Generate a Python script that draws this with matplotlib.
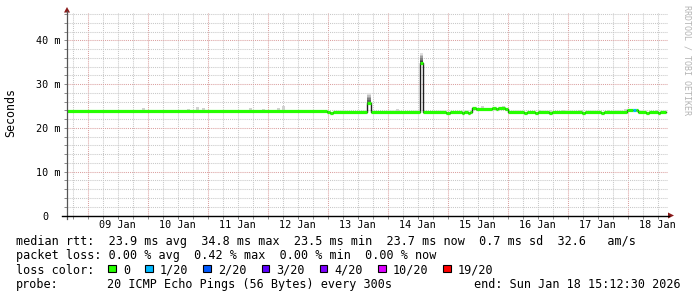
import matplotlib
matplotlib.use('Agg')
import matplotlib.pyplot as plt
import matplotlib.transforms as mtransforms
from matplotlib.lines import Line2D
from matplotlib.patches import Polygon, Rectangle
import numpy as np

W, H = 697, 297
MONO = 'DejaVu Sans Mono'

# median rtt as steps: start of each step (days since 08 Jan 00:00), ms, lost pings of 20
seg_day = [0.655, 4.988, 5.038, 5.088, 5.660, 5.717, 6.538, 6.583, 6.972, 7.038,
           7.233, 7.272, 7.338, 7.372, 7.400, 7.472, 7.733, 7.805, 7.838, 7.955,
           8.005, 8.270, 8.320, 8.455, 8.505, 8.690, 8.740, 9.230, 9.280, 9.560,
           9.610, 9.988, 10.083, 10.138, 10.167, 10.300, 10.350, 10.500, 10.540]
seg_ms = [23.9, 23.65, 23.4, 23.7, 25.6, 23.7, 34.8, 23.7, 23.45, 23.7,
          23.45, 23.7, 23.45, 23.7, 24.6, 24.3, 24.5, 24.3, 24.5, 24.3,
          23.6, 23.4, 23.6, 23.4, 23.6, 23.4, 23.6, 23.4, 23.6, 23.4,
          23.6, 24.2, 24.2, 24.2, 23.6, 23.4, 23.6, 23.4, 23.6]
seg_smoke = [23.9, 23.65, 23.4, 23.7, 27.9, 23.7, 37.1, 23.7, 23.45, 23.7,
             23.45, 23.7, 23.45, 23.7, 24.6, 24.3, 24.5, 24.3, 24.5, 24.3,
             23.6, 23.4, 23.6, 23.4, 23.6, 23.4, 23.6, 23.4, 23.6, 23.4,
             23.6, 24.2, 24.2, 24.2, 23.6, 23.4, 23.6, 23.4, 23.6]
seg_loss = [0, 0, 0, 0, 0, 0, 0, 0, 0, 0,
            0, 0, 0, 0, 0, 0, 0, 0, 0, 0,
            0, 0, 0, 0, 0, 0, 0, 0, 0, 0,
            0, 0, 1, 0, 0, 0, 0, 0, 0]
end_day = 10.638

# small bits of smoke poking above the median line
bump_day = [1.922, 2.672, 2.822, 2.922, 3.705, 3.938, 4.188, 4.255, 6.155,
            7.572, 7.922, 8.538, 8.705, 8.938, 9.205, 9.672, 9.955, 10.488]
bump_ms = [24.5, 24.4, 24.7, 24.5, 24.5, 24.4, 24.5, 24.9, 24.3,
           25.0, 24.9, 24.2, 24.2, 24.2, 24.2, 24.2, 24.3, 24.2]

date_day = [1, 2, 3, 4, 5, 6, 7, 8, 9, 10]
date_labels = ['09 Jan', '10 Jan', '11 Jan', '12 Jan', '13 Jan',
               '14 Jan', '15 Jan', '16 Jan', '17 Jan', '18 Jan']
ytick_ms = [0, 10, 20, 30, 40]
ytick_labels = ['0', '10 m', '20 m', '30 m', '40 m']

loss_counts = [0, 1, 2, 3, 4, 10, 19]
loss_labels = ['0', '1/20', '2/20', '3/20', '4/20', '10/20', '19/20']
loss_colors = ['#26ff00', '#00b8ff', '#0059ff', '#5e00ff', '#7e00ff', '#dd00ff', '#ff0000']

median_line = 'median rtt:  23.9 ms avg  34.8 ms max  23.5 ms min  23.7 ms now  0.7 ms sd  32.6   am/s'
loss_line = 'packet loss: 0.00 % avg  0.42 % max  0.00 % min  0.00 % now'
probe_text = '20 ICMP Echo Pings (56 Bytes) every 300s'
end_text = 'end: Sun Jan 18 15:12:30 2026'


def fx(px):
    return px / W


def fy(py):
    return 1 - py / H


def loss_color(n):
    col = loss_colors[0]
    for c, k in zip(loss_colors, loss_counts):
        if n >= k:
            col = c
    return col


fig = plt.figure(figsize=(W / 100, H / 100), dpi=100, facecolor='white')
ax = fig.add_axes([fx(67), fy(215.5), (668 - 67) / W, (215.5 - 12.5) / H])
ax.set_xlim(0.655, 0.655 + 601 / 60)
ax.set_ylim(0, 203 / 4.38)
for s in ax.spines.values():
    s.set_visible(False)

ax.set_xticks(np.arange(1, 11))
ax.set_xticks(np.arange(0.75, 10.7, 0.25), minor=True)
ax.set_yticks(ytick_ms)
ax.set_yticks(np.arange(0, 47, 2), minor=True)
ax.grid(which='major', color='#dba0a0', ls=(0, (1, 1)), lw=0.75)
ax.grid(which='minor', color='#c8c8c8', ls=(0, (1, 1)), lw=0.75)
ax.set_axisbelow(True)
ax.tick_params(which='both', direction='out', length=2.2, width=0.7, color='#8a8a8a',
               labelbottom=False, labelleft=False)

seg_end = seg_day[1:] + [end_day]

# smoke: shaded from dark near the median to light at the top
for d0, d1, m, top in zip(seg_day, seg_end, seg_ms, seg_smoke):
    if top - m > 0.5:
        edges = np.linspace(m, top, 7)
        shades = ['#404040', '#606060', '#808080', '#a0a0a0', '#c0c0c0', '#e0e0e0']
        for lo, hi, c in zip(edges[:-1], edges[1:], shades):
            ax.bar(d0, hi - lo, bottom=lo, width=d1 - d0, align='edge', color=c, lw=0, zorder=2)

for d, top in zip(bump_day, bump_ms):
    i = np.searchsorted(seg_day, d, side='right') - 1
    ax.bar(d, top - seg_ms[i], bottom=seg_ms[i], width=0.05, align='center',
           color='#d2d2d2', lw=0, zorder=2)

ax.step(seg_day + [end_day], seg_ms + [seg_ms[-1]], where='post',
        color='#202020', lw=1.0, zorder=3)
ax.hlines(seg_ms, seg_day, seg_end, colors=[loss_color(n) for n in seg_loss],
          lw=2.3, zorder=4)

# date labels at noon
xt = mtransforms.blended_transform_factory(ax.transData, fig.transFigure)
for d, lab in zip(date_day, date_labels):
    ax.text(d + 0.5, fy(224.5), lab, transform=xt, ha='center', va='center',
            family=MONO, fontsize=7.3)

yt = mtransforms.blended_transform_factory(fig.transFigure, ax.transData)
for v, lab in zip(ytick_ms, ytick_labels):
    x0 = 42 if v == 0 else 35.6
    ax.text(fx(x0), v, lab, transform=yt, ha='left', va='center_baseline',
            family=MONO, fontsize=7.3)

# axis lines with arrows
fig.add_artist(Line2D([fx(67), fx(67)], [fy(219), fy(11)], transform=fig.transFigure,
                      color='#555555', lw=0.9))
fig.add_artist(Line2D([fx(62), fx(669)], [fy(215.5), fy(215.5)], transform=fig.transFigure,
                      color='#000000', lw=1.0))
fig.add_artist(Polygon([[fx(64), fy(12.5)], [fx(67), fy(7)], [fx(70), fy(12.5)]],
                       closed=True, transform=fig.transFigure, color='#8b1a1a', lw=0))
fig.add_artist(Polygon([[fx(668), fy(212.5)], [fx(674), fy(215.5)], [fx(668), fy(218.5)]],
                       closed=True, transform=fig.transFigure, color='#8b1a1a', lw=0))

fig.text(fx(11), fy(113), 'Seconds', rotation=90, ha='center', va='center',
         family=MONO, fontsize=8.4)
fig.text(fx(687), fy(60), 'RRDTOOL / TOBI OETIKER', rotation=270, ha='center', va='center',
         family=MONO, fontsize=6, color='#b4b4b4')

# legend rows
fs = 8.5
adv = 7.1
fig.text(fx(16), fy(241), median_line, ha='left', va='center', family=MONO, fontsize=fs)
fig.text(fx(16), fy(255.5), loss_line, ha='left', va='center', family=MONO, fontsize=fs)

fig.text(fx(16), fy(270), 'loss color:', ha='left', va='center', family=MONO, fontsize=fs)
bx = 108.3
for lab, col in zip(loss_labels, loss_colors):
    fig.add_artist(Rectangle((fx(bx), fy(272)), 7.5 / W, 7.5 / H, transform=fig.transFigure,
                             facecolor=col, edgecolor='black', lw=0.8))
    fig.text(fx(bx + 14.5), fy(270), lab, ha='left', va='center', family=MONO, fontsize=fs)
    bx = bx + 14.5 + adv * len(lab) + 15.3

fig.text(fx(16), fy(284.3), 'probe:', ha='left', va='center', family=MONO, fontsize=fs)
fig.text(fx(107), fy(284.3), probe_text, ha='left', va='center', family=MONO, fontsize=fs)
fig.text(fx(681), fy(284.3), end_text, ha='right', va='center', family=MONO, fontsize=fs)

fig.savefig('out.png', dpi=100, facecolor='white')
